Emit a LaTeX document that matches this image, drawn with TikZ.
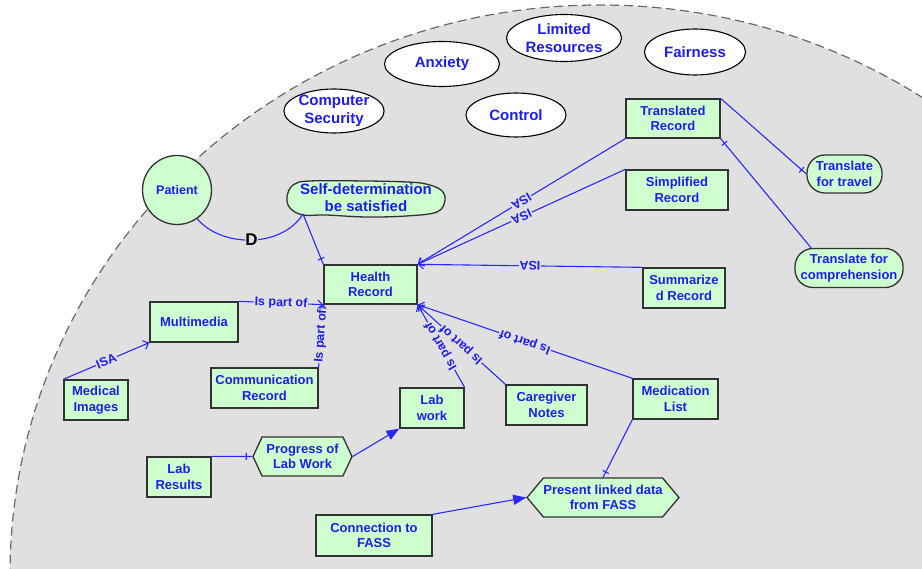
\documentclass[tikz,border=0pt]{standalone}
\usepackage{fontspec}
\setmainfont{Liberation Sans}
\usetikzlibrary{shapes.geometric, shapes.symbols, arrows.meta, decorations.markings}

\definecolor{bggray}{RGB}{224,224,224}
\definecolor{rimgray}{RGB}{105,105,105}
\definecolor{boxgreen}{RGB}{206,255,206}
\definecolor{boxline}{RGB}{50,50,50}
\definecolor{linkblue}{RGB}{40,40,255}
\definecolor{textblue}{RGB}{30,30,235}

\begin{document}
\begin{tikzpicture}[x=1pt, y=-1pt,
  every node/.style={text=textblue, font=\bfseries\fontsize{13}{15.5}\selectfont, align=center},
  record/.style={rectangle, draw=boxline, fill=boxgreen, line width=1.3pt, inner sep=0pt, minimum height=40pt},
  concern/.style={ellipse, draw=black, fill=white, line width=1.1pt, inner sep=0pt, font=\bfseries\fontsize{15}{17.5}\selectfont},
  goal/.style={rectangle, rounded corners=18pt, draw=boxline, fill=boxgreen, line width=1.3pt, inner sep=0pt, minimum height=39pt},
  task/.style={signal, signal to=west and east, draw=boxline, fill=boxgreen, line width=1.3pt, inner sep=0pt, minimum height=39pt},
  link/.style={draw=linkblue, line width=1.1pt},
  isa/.style={link, -{Straight Barb[length=5pt, width=9pt]}},
  push/.style={link, -{Triangle[length=13pt, width=10pt]}},
  lbl/.style={fill=bggray, inner sep=0.8pt, font=\bfseries\fontsize{12.5}{13}\selectfont, sloped, allow upside down},
  tickend/.style={postaction={decorate, decoration={markings, mark=at position -6pt with {\draw[linkblue, line width=1.1pt] (0,-3.5pt) -- (0,3.5pt);}}}},
  tickstart/.style={postaction={decorate, decoration={markings, mark=at position 6pt with {\draw[linkblue, line width=1.1pt] (0,-3.5pt) -- (0,3.5pt);}}}}]

  \useasboundingbox (0,0) rectangle (922,569);
  \begin{scope}
    \clip (0,0) rectangle (922,569);
    \draw[rimgray, fill=bggray, line width=1.2pt, dash pattern=on 9pt off 5pt] (600,575) ellipse [x radius=590, y radius=570];
  \end{scope}

  % concerns
  \node[concern, minimum width=94pt, minimum height=44pt] (compsec) at (334,111) {Computer\\Security};
  \node[concern, minimum width=115pt, minimum height=45pt] (anxiety) at (442,64) {Anxiety};
  \node[concern, minimum width=115pt, minimum height=47pt] (limres) at (564,38) {Limited\\Resources};
  \node[concern, minimum width=101pt, minimum height=46pt] (fairness) at (695,52) {Fairness};
  \node[concern, minimum width=100pt, minimum height=44pt] (control) at (516,115) {Control};

  % actor and goal
  \node[circle, draw=boxline, fill=boxgreen, line width=1.3pt, minimum size=69pt, inner sep=0pt, font=\bfseries\fontsize{12.5}{14}\selectfont] (patient) at (177,190) {Patient};
  \coordinate (sdc) at (366,198);
  \draw[draw=boxline, fill=boxgreen, line width=1.3pt, shift={(sdc)}] plot[smooth cycle, tension=0.6] coordinates {(-79,-1) (-73,-13) (-56,-17) (0,-17) (41,-16) (60,-14) (75,-8) (79,2) (71,14) (40,18) (0,19) (-40,17) (-63,17) (-76,10)};
  \node[font=\bfseries\fontsize{15}{17}\selectfont] (selfdet) at (sdc) {Self-determination\\be satisfied};
  \coordinate (sdfoot) at (303,214);

  % records
  \node[record, minimum width=93pt, minimum height=39pt] (healthrec) at (370.5,284.5) {Health\\Record};
  \node[record, minimum width=94pt, minimum height=39pt] (transrec) at (673,118.5) {Translated\\Record};
  \node[record, minimum width=102pt] (simprec) at (677,190) {Simplified\\Record};
  \node[record, minimum width=82pt] (sumrec) at (684,288) {Summarize\\d Record};
  \node[record, minimum width=88pt] (multimedia) at (194,322) {Multimedia};
  \node[record, minimum width=64pt] (medimg) at (96,400) {Medical\\Images};
  \node[record, minimum width=107pt] (commrec) at (264.5,388) {Communication\\Record};
  \node[record, minimum width=64pt] (labwork) at (432,408) {Lab\\work};
  \node[record, minimum width=81pt] (caregiver) at (546.5,405) {Caregiver\\Notes};
  \node[record, minimum width=85pt] (medlist) at (675.5,399) {Medication\\List};
  \node[record, minimum width=64pt] (labres) at (179,477) {Lab\\Results};
  \node[record, minimum width=116pt, minimum height=41pt] (connfass) at (374,535.5) {Connection to\\FASS};

  % soft goals and tasks
  \node[goal, minimum width=75pt, minimum height=38pt] (travel) at (844.5,174) {Translate\\for travel};
  \node[goal, minimum width=108pt] (comprehension) at (849,268) {Translate for\\comprehension};
  \node[task, minimum width=99pt, signal pointer angle=130] (progress) at (302.5,456.5) {Progress of\\Lab Work};
  \node[task, minimum width=142pt, signal pointer angle=100] (present) at (603,497.5) {Present linked data\\from FASS};

  % links
  \draw[link] (patient.-55) .. controls (222,248) and (282,248) .. node[pos=0.5, fill=bggray, inner sep=0.5pt, text=black, font=\bfseries\fontsize{17}{17}\selectfont] {D} (sdfoot);
  \draw[link, tickend] (sdfoot) -- (healthrec.north west);
  \draw[isa] (transrec.south west) -- node[lbl] {ISA} (healthrec.north east);
  \draw[isa] (simprec.north west) -- node[lbl] {ISA} (healthrec.north east);
  \draw[isa] (sumrec.north west) -- node[lbl] {ISA} (healthrec.north east);
  \draw[isa] (multimedia.north east) -- node[lbl] {Is part of} (healthrec.south west);
  \draw[isa] (commrec.north east) -- node[lbl] {Is part of} (healthrec.south west);
  \draw[isa] (labwork.north east) -- node[lbl] {Is part of} (healthrec.south east);
  \draw[isa] (caregiver.north west) -- node[lbl] {Is part of} (healthrec.south east);
  \draw[isa] (medlist.north west) -- node[lbl] {Is part of} (healthrec.south east);
  \draw[isa] (medimg.north west) -- node[lbl] {ISA} (multimedia.south west);
  \draw[link, tickend] (transrec.north east) -- (travel.west);
  \draw[link, tickstart] (transrec.south east) -- (comprehension.152);
  \draw[link, tickend] (labres.north east) -- (progress.west);
  \draw[push] (progress.east) -- (labwork.south west);
  \draw[push] (connfass.north east) -- (present.west);
  \draw[link, tickend] (medlist.south west) -- (present.north);
\end{tikzpicture}
\end{document}
